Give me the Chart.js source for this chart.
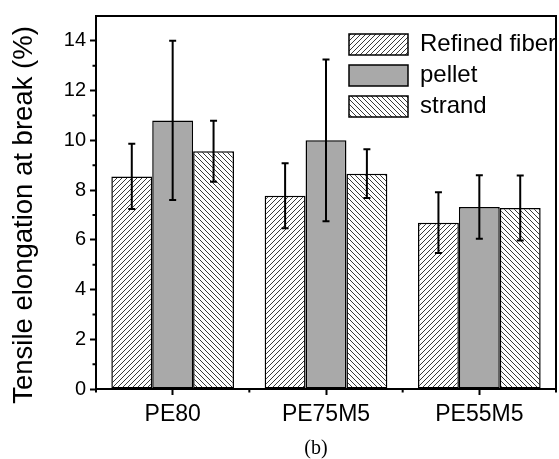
<!DOCTYPE html>
<html><head><meta charset="utf-8">
<script src="https://cdn.jsdelivr.net/npm/chart.js@4/dist/chart.umd.min.js"></script>
<style>html,body{margin:0;padding:0;background:#fff;}</style>
</head><body>
<canvas id="c" width="559" height="459"></canvas>
<script>
// ---- data ----
const categories = ['PE80', 'PE75M5', 'PE55M5'];
const seriesNames = ['Refined fiber', 'pellet', 'strand'];
const fiberValues = [8.55, 7.77, 6.69];
const fiberErrors = [1.31, 1.31, 1.22];
const pelletValues = [10.8, 10.0, 7.32];
const pelletErrors = [3.2, 3.25, 1.28];
const strandValues = [9.56, 8.66, 7.28];
const strandErrors = [1.23, 0.98, 1.31];
const yAxisMin = 0;
const yAxisMax = 15;
const yTickStep = 2;
const yAxisTitle = 'Tensile elongation at break (%)';
const xAxisTitle = '(b)';

const valueSets = [fiberValues, pelletValues, strandValues];
const errorSets = [fiberErrors, pelletErrors, strandErrors];

function hatch(dir, bg) {
  const s = 5;
  const c = document.createElement('canvas');
  c.width = s; c.height = s;
  const g = c.getContext('2d');
  g.fillStyle = bg; g.fillRect(0, 0, s, s);
  g.strokeStyle = '#3a3a3a'; g.lineWidth = 1;
  g.beginPath();
  if (dir > 0) {
    g.moveTo(0, s); g.lineTo(s, 0);
    g.moveTo(-1, 1); g.lineTo(1, -1);
    g.moveTo(s - 1, s + 1); g.lineTo(s + 1, s - 1);
  } else {
    g.moveTo(0, 0); g.lineTo(s, s);
    g.moveTo(-1, s - 1); g.lineTo(1, s + 1);
    g.moveTo(s - 1, -1); g.lineTo(s + 1, 1);
  }
  g.stroke();
  return g.createPattern(c, 'repeat');
}
const ctx0 = document.getElementById('c').getContext('2d');
const fills = [hatch(1, '#ffffff'), '#a9a9a9', hatch(-1, '#ffffff')];

const custom = {
  id: 'custom',
  afterLayout(chart) {
    const lg = chart.legend;
    if (!lg) return;
    const w = lg.width, h = lg.height;
    lg.left = chart.chartArea.right - 214;
    lg.top = chart.chartArea.top + 9.5;
    lg.right = lg.left + w;
    lg.bottom = lg.top + h;
  },
  afterDatasetsDraw(chart) {
    const ctx = chart.ctx, y = chart.scales.y;
    ctx.save();
    ctx.strokeStyle = '#000'; ctx.lineWidth = 2;
    errorSets.forEach((errs, di) => {
      chart.getDatasetMeta(di).data.forEach((bar, j) => {
        const v = valueSets[di][j], e = errs[j];
        const x = bar.x;
        const yt = y.getPixelForValue(v + e), yb = y.getPixelForValue(v - e);
        ctx.beginPath();
        ctx.moveTo(x, yt); ctx.lineTo(x, yb);
        ctx.moveTo(x - 3.5, yt); ctx.lineTo(x + 3.5, yt);
        ctx.moveTo(x - 3.5, yb); ctx.lineTo(x + 3.5, yb);
        ctx.stroke();
      });
    });
    ctx.restore();
  },
  afterDraw(chart) {
    const ctx = chart.ctx, a = chart.chartArea, x = chart.scales.x, y = chart.scales.y;
    ctx.save();
    ctx.strokeStyle = '#000'; ctx.lineWidth = 2;
    ctx.strokeRect(a.left, a.top, a.right - a.left, a.bottom - a.top);
    // minor ticks
    ctx.beginPath();
    for (let v = yAxisMin + 1; v < yAxisMax; v += yTickStep) {
      const py = y.getPixelForValue(v);
      ctx.moveTo(a.left, py); ctx.lineTo(a.left - 3.5, py);
    }
    for (let i = 0; i <= categories.length; i++) {
      const px = x.getPixelForValue(i - 0.5);
      ctx.moveTo(px, a.bottom); ctx.lineTo(px, a.bottom + 3.5);
    }
    ctx.stroke();
    // axis titles
    ctx.fillStyle = '#000';
    ctx.font = '27.5px "Liberation Sans", Arial, sans-serif';
    ctx.textAlign = 'center'; ctx.textBaseline = 'middle';
    ctx.translate(24, 215); ctx.rotate(-Math.PI / 2);
    ctx.fillText(yAxisTitle, 0, 0);
    ctx.setTransform(1, 0, 0, 1, 0, 0);
    ctx.font = '20px "Liberation Serif", "Times New Roman", serif';
    ctx.fillText(xAxisTitle, 316, 449);
    ctx.restore();
  }
};

new Chart(ctx0, {
  type: 'bar',
  data: {
    labels: categories,
    datasets: seriesNames.map((name, i) => ({
      label: name,
      data: valueSets[i],
      backgroundColor: fills[i],
      borderColor: '#000',
      borderWidth: 1.5,
      borderSkipped: false,
      categoryPercentage: 0.8,
      barPercentage: 1.0
    }))
  },
  options: {
    responsive: false,
    animation: false,
    devicePixelRatio: 1,
    layout: { padding: { left: 0, right: 3, top: 16, bottom: 0 } },
    plugins: {
      tooltip: { enabled: false },
      legend: {
        position: 'chartArea',
        align: 'start',
        labels: {
          boxWidth: 59, boxHeight: 21, padding: 7, color: '#000',
          font: { family: '"Liberation Sans", Arial, sans-serif', size: 24 }
        }
      }
    },
    scales: {
      x: {
        grid: { offset: false, drawOnChartArea: false, tickLength: 6, tickWidth: 2, tickColor: '#000' },
        border: { color: '#000', width: 2 },
        ticks: { color: '#000', padding: 6, font: { family: '"Liberation Sans", Arial, sans-serif', size: 23 } },
        afterFit(s) { s.height = 70; }
      },
      y: {
        min: yAxisMin, max: yAxisMax,
        grid: { drawOnChartArea: false, tickLength: 6, tickWidth: 2, tickColor: '#000' },
        border: { color: '#000', width: 2 },
        ticks: { stepSize: yTickStep, includeBounds: false, color: '#000', padding: 4,
                 font: { family: '"Liberation Sans", Arial, sans-serif', size: 20 } },
        afterFit(s) { s.width = 96; }
      }
    }
  },
  plugins: [custom]
});
</script>
</body></html>
